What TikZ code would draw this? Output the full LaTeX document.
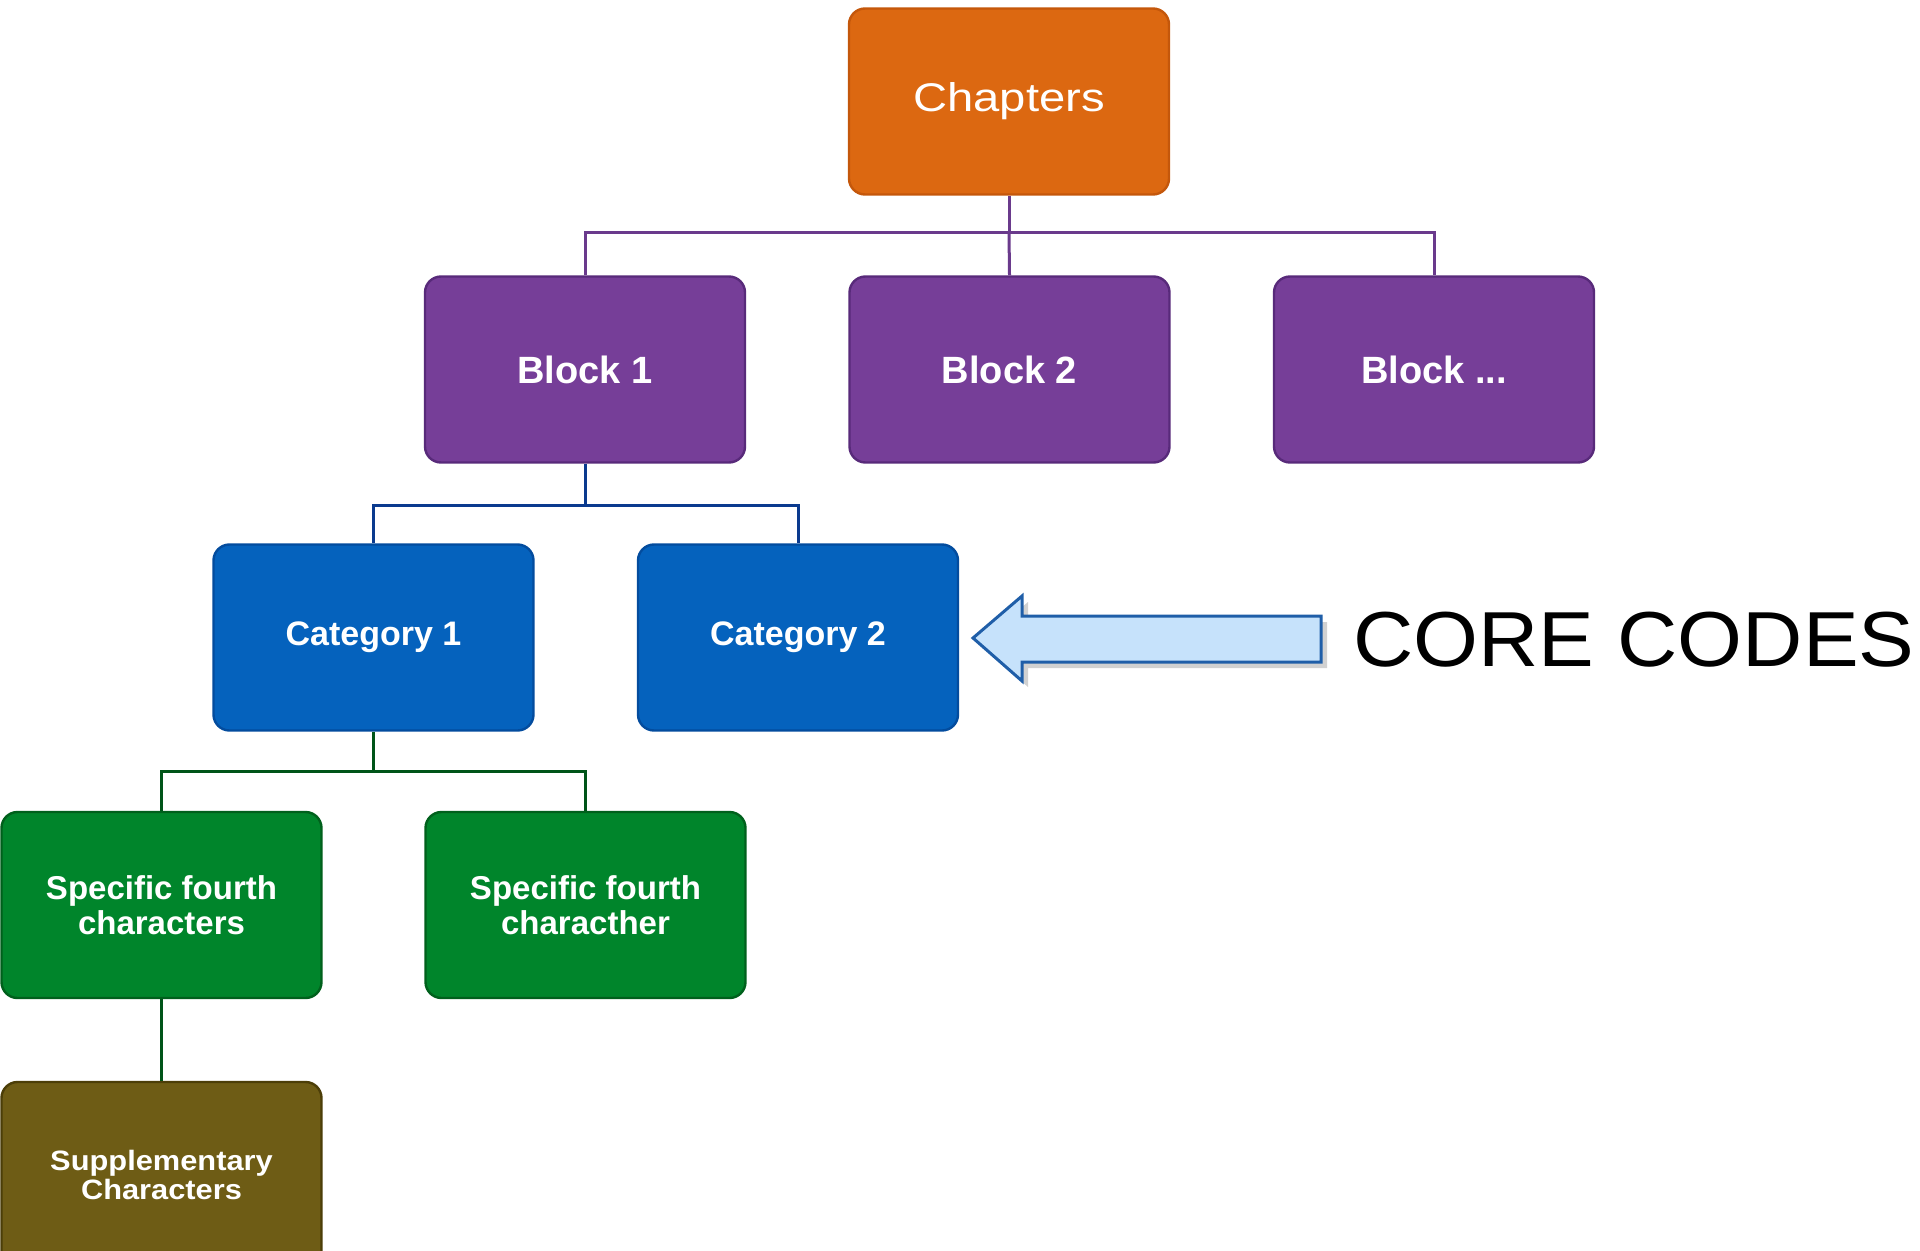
\documentclass[tikz,border=0pt]{standalone}
\usepackage{fontspec}
\setmainfont{Liberation Sans}
\newfontfamily\chapfont[FakeStretch=1.18]{Liberation Sans}
\newfontfamily\suppfont[FakeStretch=1.1]{Liberation Sans}
\newfontfamily\corefont[FakeStretch=1.07]{Liberation Sans}
\usetikzlibrary{positioning}

\definecolor{chapfill}{HTML}{DC6811}
\definecolor{chapedge}{HTML}{C4570B}
\definecolor{blockfill}{HTML}{763E98}
\definecolor{blockedge}{HTML}{582A7A}
\definecolor{catfill}{HTML}{0562BD}
\definecolor{catedge}{HTML}{034C9E}
\definecolor{fourfill}{HTML}{00852B}
\definecolor{fouredge}{HTML}{00601C}
\definecolor{suppfill}{HTML}{6E5C15}
\definecolor{suppedge}{HTML}{4C3E08}
\definecolor{plink}{HTML}{6A3A8C}
\definecolor{blink}{HTML}{0A3A8E}
\definecolor{glink}{HTML}{005418}
\definecolor{arrowfill}{HTML}{C6E2FB}
\definecolor{arrowedge}{HTML}{1F5EA8}

\tikzset{
  box/.style={rectangle, rounded corners=8pt, line width=1.2pt,
    minimum width=160pt, minimum height=93pt, inner sep=2pt,
    text=white, align=center},
  chapbox/.style={box, fill=chapfill, draw=chapedge,
    font=\chapfont\fontsize{20}{24}\selectfont},
  blockbox/.style={box, fill=blockfill, draw=blockedge,
    font=\bfseries\fontsize{19}{23}\selectfont},
  catbox/.style={box, fill=catfill, draw=catedge,
    font=\bfseries\fontsize{17}{20}\selectfont},
  fourbox/.style={box, fill=fourfill, draw=fouredge,
    font=\bfseries\fontsize{16.5}{17.8}\selectfont},
  suppbox/.style={box, fill=suppfill, draw=suppedge,
    font=\suppfont\bfseries\fontsize{14}{14.7}\selectfont},
  plinkstyle/.style={draw=plink, line width=1.5pt},
  blinkstyle/.style={draw=blink, line width=1.5pt},
  glinkstyle/.style={draw=glink, line width=1.5pt},
}

\begin{document}
\begin{tikzpicture}[x=0.5pt, y=-0.5pt]
  \useasboundingbox (0,0) rectangle (1920,1251);
  \begin{scope}
    \clip (0,0) rectangle (1920,1251);

    % level 1
    \node[chapbox] (chap) at (1009,101.5) {Chapters};

    % level 2
    \node[blockbox] (b1) at (585,369.5) {Block 1};
    \node[blockbox] (b2) at (1009.5,369.5) {Block 2};
    \node[blockbox] (b3) at (1434,369.5) {Block ...};

    % level 3
    \node[catbox] (c1) at (373.5,637.5) {Category 1};
    \node[catbox] (c2) at (798,637.5) {Category 2};

    % level 4
    \node[fourbox] (g1) at (161.5,905) {Specific fourth\\characters};
    \node[fourbox] (g2) at (585.5,905) {Specific fourth\\characther};

    % level 5
    \node[suppbox] (sup) at (161.5,1175) {Supplementary\\Characters};

    % elbow connectors
    \coordinate (pbar) at (1009,233);
    \draw[plinkstyle] (chap.south) -- (pbar);
    \draw[plinkstyle] (pbar) -| (b1.north);
    \draw[plinkstyle] (pbar) -| (b3.north);
    \draw[plinkstyle] (pbar) -- (b2.north);

    \coordinate (bbar) at (585,505);
    \draw[blinkstyle] (b1.south) -- (bbar);
    \draw[blinkstyle] (bbar) -| (c1.north);
    \draw[blinkstyle] (bbar) -| (c2.north);

    \coordinate (gbar) at (373.5,771);
    \draw[glinkstyle] (c1.south) -- (gbar);
    \draw[glinkstyle] (gbar) -| (g1.north);
    \draw[glinkstyle] (gbar) -| (g2.north);

    \draw[glinkstyle] (g1.south) -- (sup.north);

    % block arrow pointing at Category 2, with a soft shadow
    \fill[black!18] (979,644) -- (1028,602) -- (1028,622) -- (1327,622)
      -- (1327,668) -- (1028,668) -- (1028,687) -- cycle;
    \filldraw[fill=arrowfill, draw=arrowedge, line width=1.5pt, line join=miter]
      (973,638) -- (1022,596) -- (1022,616) -- (1321,616)
      -- (1321,662) -- (1022,662) -- (1022,681) -- cycle;

    \node[anchor=base west, inner sep=0pt, text=black,
      font=\corefont\fontsize{39}{44}\selectfont] (core) at (1353,666) {CORE CODES};
  \end{scope}
\end{tikzpicture}
\end{document}
